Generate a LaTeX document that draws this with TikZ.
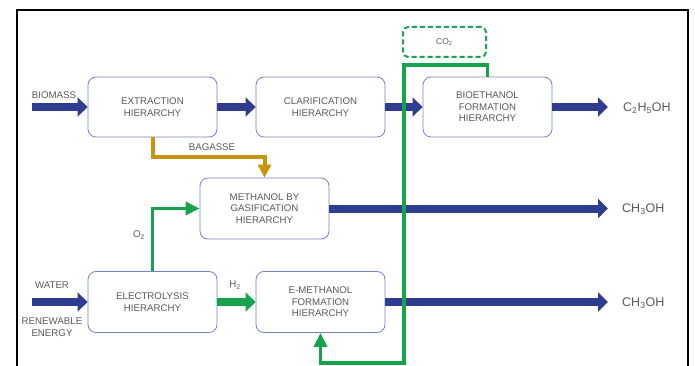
\documentclass[tikz,border=0pt]{standalone}
\usepackage{fontspec}
\setmainfont{Liberation Sans}
\usetikzlibrary{arrows.meta}
\definecolor{boxblue}{HTML}{7683BE}
\definecolor{flowblue}{HTML}{2E3D8F}
\definecolor{flowgreen}{HTML}{17A24C}
\definecolor{flowgold}{HTML}{C8940C}
\definecolor{textgray}{HTML}{5A5A5A}

\begin{document}
\begin{tikzpicture}[x=1pt, y=-1pt,
		hierarchy/.style={draw=boxblue, line width=0.8pt, rounded corners=8pt, fill=white,
			minimum width=129pt, minimum height=60pt, align=center, text=textgray,
			font=\fontsize{9.7}{11.5}\selectfont},
		tag/.style={text=textgray, align=center, font=\fontsize{9.7}{11.5}\selectfont},
		product/.style={text=textgray, anchor=west, inner sep=0pt, font=\fontsize{12.5}{14}\selectfont},
		bluearrow/.style={draw=flowblue, line width=8pt, -{Triangle[length=10pt,width=19pt]}},
		greenarrow/.style={draw=flowgreen, line width=8pt, -{Triangle[length=10pt,width=19pt]}},
		greenline/.style={draw=flowgreen, line width=3.5pt, -{Triangle[length=14pt,width=13pt]}},
		goldline/.style={draw=flowgold, line width=4pt, -{Triangle[length=13pt,width=13pt]}}]
		\useasboundingbox (0,0) rectangle (695,366);
		\clip (0,0) rectangle (695,366);
		
		% Frame
		\draw[line width=1.6pt] (17,10) rectangle (688,400);
		
		% Hierarchies
		\node[hierarchy] (extraction) at (152.5,107) {EXTRACTION\\HIERARCHY};
		\node[hierarchy] (clarification) at (320.5,107) {CLARIFICATION\\HIERARCHY};
		\node[hierarchy] (bioethanol) at (487.5,107) {BIOETHANOL\\FORMATION\\HIERARCHY};
		\node[hierarchy, minimum height=61pt] (gasification) at (264.5,208.5) {METHANOL BY\\GASIFICATION\\HIERARCHY};
		\node[hierarchy, minimum height=61pt] (electrolysis) at (152.5,302) {ELECTROLYSIS\\HIERARCHY};
		\node[hierarchy, minimum height=61pt] (emethanol) at (320.5,302) {E-METHANOL\\FORMATION\\HIERARCHY};
		
		\node[draw=flowgreen, line width=2pt, dash pattern=on 5pt off 3pt, rounded corners=5pt,
			minimum width=83pt, minimum height=30pt, text=textgray, font=\fontsize{8.5}{9}\selectfont]
			(co2) at (444.5,42) {CO\textsubscript{2}};
		
		% Coordinates
		\coordinate (biomass-in) at (32,107);
		\coordinate (water-in) at (32,302);
		\coordinate (ethanol-out) at (608,107);
		\coordinate (methanol-out) at (608,208.5);
		\coordinate (emethanol-out) at (608,302);
		\coordinate (co2-top) at (404,65);
		\coordinate (co2-bottom) at (404,363);
		
		% Main flows
		\draw[bluearrow] (biomass-in) -- (extraction);
		\draw[bluearrow] (extraction) -- (clarification);
		\draw[bluearrow] (clarification) -- (bioethanol);
		\draw[bluearrow] (bioethanol) -- (ethanol-out);
		\draw[bluearrow] (gasification) -- (methanol-out);
		\draw[bluearrow] (water-in) -- (electrolysis);
		\draw[bluearrow] (emethanol) -- (emethanol-out);
		\draw[greenarrow] (electrolysis) -- (emethanol);
		
		% Side flows
		\draw[goldline] (extraction.south) -- ++(0,20) -| (gasification.north);
		\draw[greenline] (electrolysis.north) |- (gasification.west);
		\draw[greenline] (bioethanol.north) |- (co2-top) -- (co2-bottom) -| (emethanol.south);
		
		% Labels
		\node[tag] (biomass) at (54,95) {BIOMASS};
		\node[tag] (bagasse) at (212,147) {BAGASSE};
		\node[tag] (oxygen) at (139,235) {O\textsubscript{2}};
		\node[tag] (hydrogen) at (235,285) {H\textsubscript{2}};
		\node[tag] (water) at (52,285) {WATER};
		\node[tag] (energy) at (52,327) {RENEWABLE\\ENERGY};
		\node[product] (ethanol) at (623,108) {C\textsubscript{2}H\textsubscript{5}OH};
		\node[product] (methanol) at (622,209) {CH\textsubscript{3}OH};
		\node[product] (emethanol-product) at (622,303) {CH\textsubscript{3}OH};
	\end{tikzpicture}
\end{document}
